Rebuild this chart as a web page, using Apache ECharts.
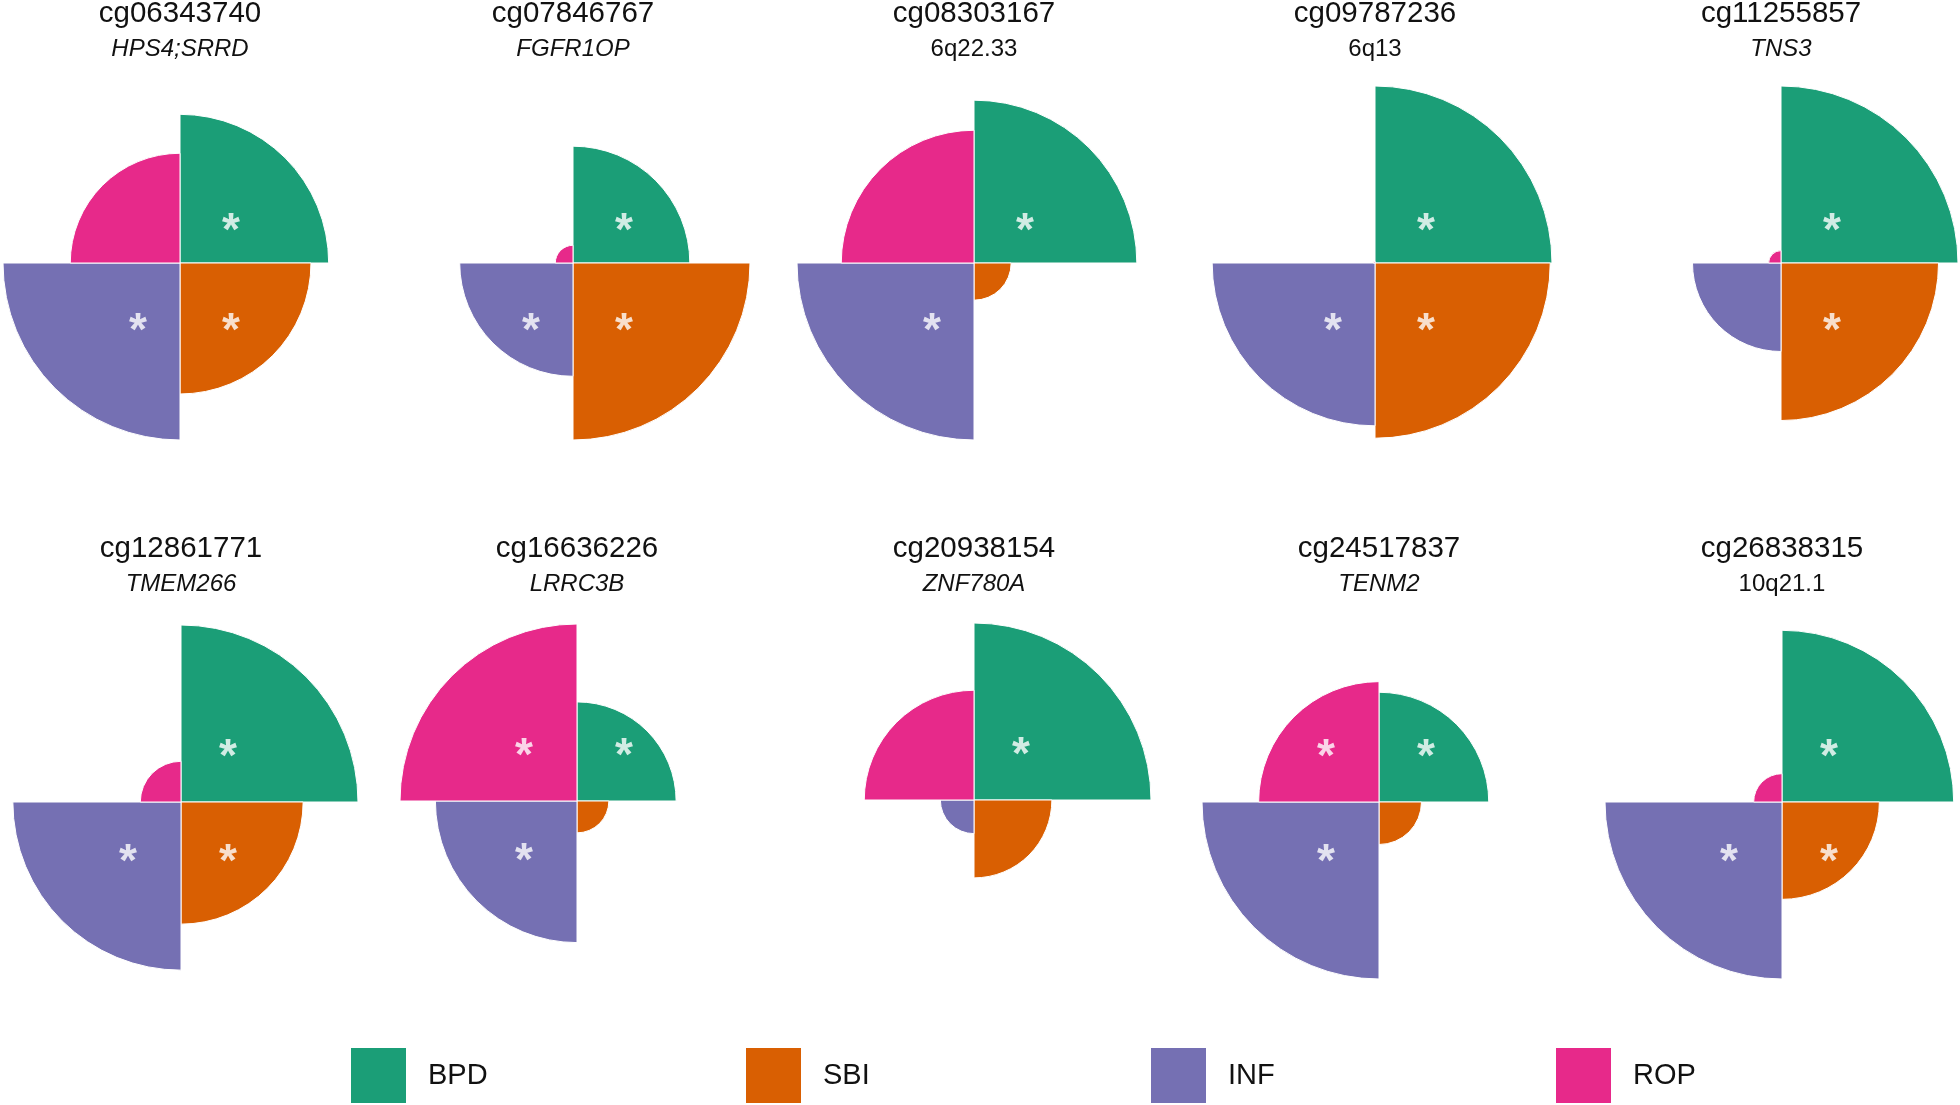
<!DOCTYPE html>
<html>
<head>
<meta charset="utf-8">
<script src="https://cdn.jsdelivr.net/npm/echarts@6/dist/echarts.min.js"></script>
<style>
html,body{margin:0;padding:0;background:#fff;}
#chart{width:1960px;height:1105px;}
</style>
</head>
<body>
<div id="chart"></div>
<script>
// ---- data ----
const groups = ['BPD', 'SBI', 'INF', 'ROP'];
const probes = ['cg06343740', 'cg07846767', 'cg08303167', 'cg09787236', 'cg11255857',
                'cg12861771', 'cg16636226', 'cg20938154', 'cg24517837', 'cg26838315'];
const genes = ['HPS4;SRRD', 'FGFR1OP', '6q22.33', '6q13', 'TNS3',
               'TMEM266', 'LRRC3B', 'ZNF780A', 'TENM2', '10q21.1'];
const geneItalic = [true, true, false, false, true, true, true, true, true, false];
// relative effect values per panel (largest quadrant = 1)
const bpd = [0.84, 0.66, 0.92, 1.00, 1.00, 1.00, 0.56, 1.00, 0.62, 0.97];
const sbi = [0.74, 1.00, 0.21, 0.99, 0.89, 0.69, 0.18, 0.44, 0.24, 0.55];
const inf = [1.00, 0.64, 1.00, 0.92, 0.50, 0.95, 0.80, 0.19, 1.00, 1.00];
const rop = [0.62, 0.10, 0.75, 0.01, 0.07, 0.23, 1.00, 0.62, 0.68, 0.16];
// significance flags (asterisks)
const bpdSig = [1, 1, 1, 1, 1, 1, 1, 1, 1, 1];
const sbiSig = [1, 1, 0, 1, 1, 1, 0, 0, 0, 1];
const infSig = [1, 1, 1, 1, 0, 1, 1, 0, 1, 1];
const ropSig = [0, 0, 0, 0, 0, 0, 1, 0, 1, 0];

// ---- style / layout ----
const colors = ['#1B9E77', '#D95F02', '#7570B3', '#E7298A'];
const centers = [[180, 263], [573, 263], [974, 263], [1375, 263], [1781, 263],
                 [181, 802], [577, 801], [974, 800], [1379, 802], [1782, 802]];
const R = 177;
const titleY = [14, 549];
const subY = [49, 584];
const FONT = '"Liberation Sans", Arial, Helvetica, sans-serif';

const values = [bpd, sbi, inf, rop];
const sigs = [bpdSig, sbiSig, infSig, ropSig];

const polar = [], angleAxis = [], radiusAxis = [], series = [], title = [];
for (let i = 0; i < probes.length; i++) {
  const row = i < 5 ? 0 : 1;
  const [cx, cy] = centers[i];
  const pmax = Math.max(bpd[i], sbi[i], inf[i], rop[i]);
  polar.push({ center: [cx, cy], radius: R });
  angleAxis.push({
    polarIndex: i, type: 'category', data: groups, startAngle: 90, clockwise: true,
    boundaryGap: true,
    axisLine: { show: false }, axisTick: { show: false }, axisLabel: { show: false },
    splitLine: { show: false }, splitArea: { show: false }
  });
  radiusAxis.push({
    polarIndex: i, min: 0, max: pmax,
    axisLine: { show: false }, axisTick: { show: false }, axisLabel: { show: false },
    splitLine: { show: false }
  });
  groups.forEach((g, k) => {
    series.push({
      type: 'bar', name: g, coordinateSystem: 'polar', polarIndex: i,
      stack: 'p' + i, barCategoryGap: '0%',
      data: groups.map((_, j) => (j === k ? values[k][i] : '-')),
      itemStyle: { color: colors[k], borderColor: '#ffffff', borderWidth: 1 },
      silent: true, animation: false
    });
  });
  const astData = [];
  groups.forEach((g, k) => {
    if (sigs[k][i]) {
      const leftSide = k >= 2;
      const topSide = k === 0 || k === 3;
      const dx = row === 0 ? (leftSide ? 8 : 1) : -3;
      const dy = row === 0 ? 19 : (topSide ? 6 : 11);
      astData.push({ value: [pmax * 0.4, g], label: { offset: [dx, dy] } });
    }
  });
  series.push({
    type: 'scatter', coordinateSystem: 'polar', polarIndex: i,
    symbolSize: 1, itemStyle: { color: 'rgba(0,0,0,0)' },
    data: astData, silent: true, animation: false,
    label: {
      show: true, formatter: '*', position: 'inside',
      color: '#ffffff', fontSize: 46, fontWeight: 'bold', fontFamily: FONT
    }
  });
  title.push({
    text: probes[i], left: cx, top: titleY[row] - 15, textAlign: 'center', padding: 0,
    textStyle: { fontSize: 29.5, fontWeight: 'normal', color: '#111', fontFamily: FONT, lineHeight: 30 }
  });
  title.push({
    text: genes[i], left: cx, top: subY[row] - 12, textAlign: 'center', padding: 0,
    textStyle: { fontSize: 24, fontWeight: 'normal', fontStyle: geneItalic[i] ? 'italic' : 'normal',
                 color: '#111', fontFamily: FONT, lineHeight: 24 }
  });
}

const legendLeft = [351, 746, 1151, 1556];
const legend = groups.map((g, k) => ({
  data: [g], left: legendLeft[k], top: 1048, orient: 'horizontal',
  itemWidth: 55, itemHeight: 55, icon: 'rect', padding: 0, selectedMode: false,
  itemStyle: { borderWidth: 0 },
  textStyle: { fontSize: 29, color: '#111', fontFamily: FONT, padding: [4, 0, 0, 17] }
}));

const chart = echarts.init(document.getElementById('chart'), null, { renderer: 'canvas' });
chart.setOption({
  backgroundColor: '#ffffff',
  animation: false,
  title, legend, polar, angleAxis, radiusAxis, series
});
</script>
</body>
</html>
